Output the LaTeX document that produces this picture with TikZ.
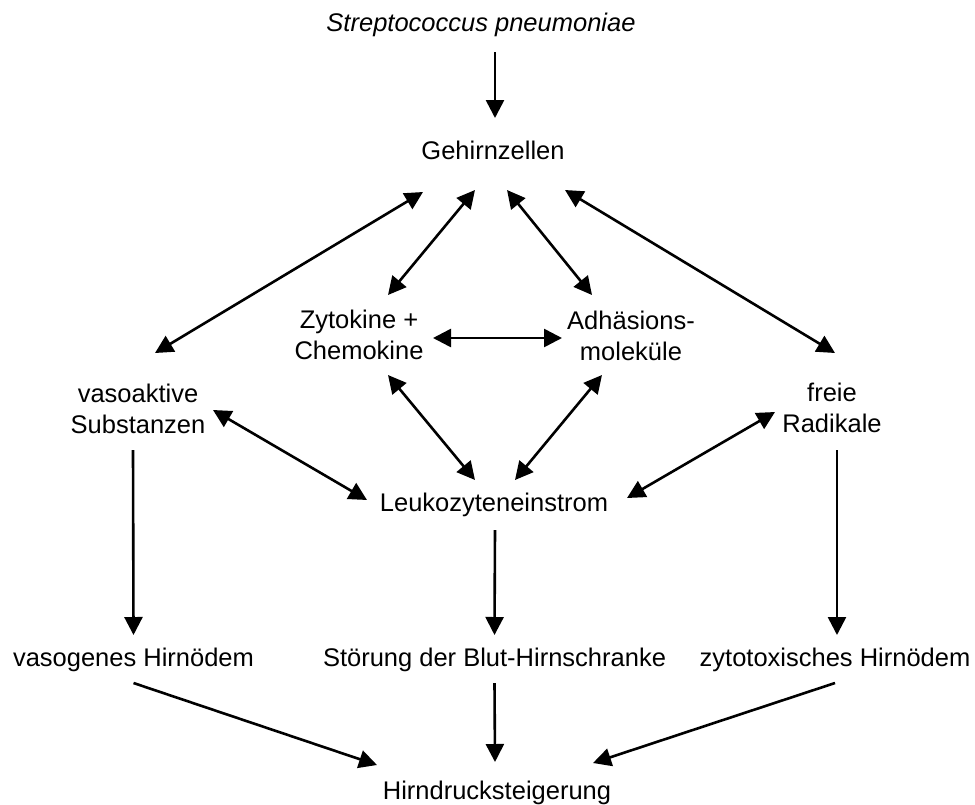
\documentclass[tikz,border=0pt]{standalone}
\usepackage{fontspec}
\setmainfont{Liberation Sans}
\usepackage{tikz}
\usetikzlibrary{arrows.meta}

\begin{document}
\begin{tikzpicture}[
    x=0.5pt, y=-0.5pt,
    every node/.style={font=\fontsize{12.75}{15.5}\selectfont, inner sep=0pt, align=center},
    arr/.style={-{Triangle[length=9pt, width=9pt]}, line width=1.3pt},
    dbl/.style={{Triangle[length=9pt, width=9pt]}-{Triangle[length=9pt, width=9pt]}, line width=1.3pt},
]
    \useasboundingbox (0,0) rectangle (975,804);

    \node (strep) at (481,25) {\itshape Streptococcus pneumoniae};
    \node (gehirn) at (493,150) {Gehirnzellen};

    \node (zyto) at (359,335) {Zytokine +\\Chemokine};
    \node (adh) at (631,336) {Adhäsions-\\moleküle};
    \node (vaso) at (138,409) {vasoaktive\\Substanzen};
    \node (freie) at (832,408) {freie\\Radikale};
    \node (leuko) at (494,505) {Leukozyteneinstrom};

    \node (vasog) at (133.5,660) {vasogenes Hirnödem};
    \node (stoer) at (494.5,660) {Störung der Blut-Hirnschranke};
    \node (zytox) at (835,660) {zytotoxisches Hirnödem};
    \node (hirnd) at (497,793) {Hirndrucksteigerung};

    \draw[arr] ([shift={(14,27)}]strep.center) -- ([shift={(2,-32)}]gehirn.center);

    % around the brain cells
    \draw[dbl] ([shift={(-70,42)}]gehirn.center) -- ([shift={(17,-56)}]vaso.center);
    \draw[dbl] ([shift={(-18,40)}]gehirn.center) -- ([shift={(29,-40)}]zyto.center);
    \draw[dbl] ([shift={(14,40)}]gehirn.center) -- ([shift={(-39,-41)}]adh.center);
    \draw[dbl] ([shift={(72,40)}]gehirn.center) -- ([shift={(3,-55)}]freie.center);
    \draw[dbl] ([shift={(74,3)}]zyto.center) -- ([shift={(-69,2)}]adh.center);

    % leucocytes
    \draw[dbl] ([shift={(29,40)}]zyto.center) -- ([shift={(-19,-25)}]leuko.center);
    \draw[dbl] ([shift={(-29,39)}]adh.center) -- ([shift={(21,-25)}]leuko.center);
    \draw[dbl] ([shift={(75,1)}]vaso.center) -- ([shift={(-127,-5)}]leuko.center);
    \draw[dbl] ([shift={(-57,4)}]freie.center) -- ([shift={(133,-7)}]leuko.center);

    \draw[arr] ([shift={(-5,41)}]vaso.center) -- ([shift={(0,-25)}]vasog.center);
    \draw[arr] ([shift={(1,25)}]leuko.center) -- ([shift={(0,-25)}]stoer.center);
    \draw[arr] ([shift={(5,42)}]freie.center) -- ([shift={(2,-25)}]zytox.center);

    % pressure
    \draw[arr] ([shift={(0,23)}]vasog.center) -- ([shift={(-120,-28)}]hirnd.center);
    \draw[arr] ([shift={(0,23)}]stoer.center) -- ([shift={(-2,-31)}]hirnd.center);
    \draw[arr] ([shift={(0,23)}]zytox.center) -- ([shift={(96,-30)}]hirnd.center);
\end{tikzpicture}
\end{document}
